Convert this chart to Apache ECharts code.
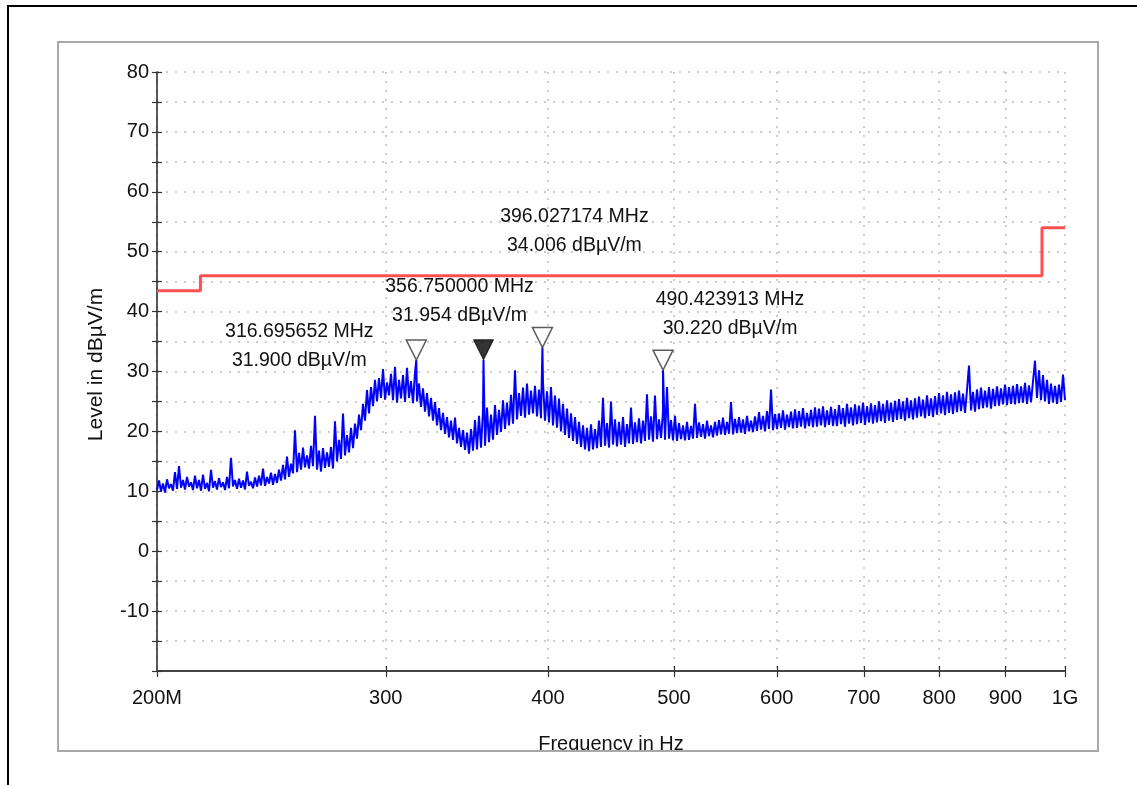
<!DOCTYPE html>
<html><head><meta charset="utf-8">
<script src="https://cdn.jsdelivr.net/npm/echarts@6/dist/echarts.min.js"></script>
<style>html,body{margin:0;padding:0;background:#fff}#c{width:1137px;height:785px}</style>
</head><body><div id="c"></div>
<script>
// ---- data ----
const sweepStartMHz = 200, sweepStopMHz = 1000;
const traceLevels = [
10.2,11.8,10.0,11.3,9.8,12.0,10.5,11.2,10.1,13.2,
10.4,14.2,10.6,11.9,10.3,12.4,10.8,11.5,10.2,12.6,
10.5,11.9,10.1,12.8,10.4,11.4,10.0,13.6,10.6,11.7,
10.3,12.2,10.7,11.5,10.2,12.4,10.5,15.6,10.8,11.9,
10.4,12.1,10.6,11.8,10.3,13.3,10.9,11.6,10.5,12.3,
10.8,12.6,11.0,13.8,10.9,12.4,11.3,13.1,11.1,12.9,
11.4,13.6,11.8,14.4,12.0,15.8,12.4,14.6,13.0,20.2,
13.2,16.4,13.6,17.3,14.0,16.0,13.8,17.6,14.2,22.6,
13.6,16.8,13.3,17.2,13.9,16.5,14.1,17.4,13.8,21.7,
15.0,18.6,15.4,23.0,16.0,19.4,16.5,20.6,17.2,21.3,
18.8,22.8,20.2,24.6,21.8,26.9,23.0,27.4,24.2,28.6,
25.0,28.9,25.6,30.4,25.3,28.2,26.0,29.6,25.2,30.8,
24.8,28.6,25.5,29.4,24.9,30.6,25.6,28.4,24.7,29.8,
25.0,28.0,24.1,27.2,23.3,26.4,22.5,25.6,21.8,24.9,
21.0,23.9,20.2,23.1,19.6,22.4,19.0,21.8,18.6,22.3,
18.0,20.6,17.4,20.2,16.9,19.8,16.3,20.4,16.8,21.9,
17.0,22.6,17.3,23.5,17.6,24.0,18.2,22.8,18.6,24.4,
19.4,23.6,19.9,25.2,20.4,24.8,21.0,26.1,21.3,30.2,
22.0,26.4,22.6,27.3,22.3,28.0,22.8,26.8,23.0,27.6,
22.5,27.0,22.2,28.2,21.8,26.7,21.5,27.4,21.0,26.0,
20.6,25.5,20.0,24.6,19.4,23.8,18.9,23.0,18.4,22.4,
17.9,21.6,17.4,21.0,17.0,20.6,16.7,21.2,17.0,20.4,
17.2,21.8,17.4,25.6,17.6,21.4,17.3,25.0,17.8,22.0,
17.5,21.6,17.8,22.4,17.4,21.2,18.0,24.0,17.9,21.5,
18.2,22.2,18.0,21.8,18.4,26.2,18.6,22.5,18.3,26.0,
18.7,22.0,18.9,23.3,18.6,27.4,18.8,21.9,18.5,22.6,
18.4,21.4,18.7,21.0,18.5,21.6,18.6,20.9,18.8,24.6,
18.9,21.5,19.1,21.2,18.8,21.8,19.2,21.0,19.0,21.6,
19.3,21.9,19.5,22.3,19.4,21.6,19.6,24.9,19.5,22.1,
19.7,22.4,19.8,22.0,19.6,22.6,20.0,21.8,19.9,22.5,
20.1,23.2,20.3,22.6,20.0,23.4,20.4,27.0,20.2,22.9,
20.4,23.0,20.6,23.5,20.3,22.8,20.7,23.3,20.5,23.7,
20.6,23.4,20.8,23.9,20.5,23.1,20.9,23.6,20.7,24.0,
20.8,23.8,21.0,24.2,20.7,23.5,21.1,24.1,20.9,23.7,
20.9,24.4,21.2,23.9,20.8,24.6,21.3,24.0,21.0,24.5,
21.2,24.3,21.4,24.8,21.1,24.2,21.5,24.7,21.3,24.4,
21.5,25.0,21.7,24.6,21.4,25.2,21.8,24.8,21.6,25.1,
21.9,25.4,22.1,25.0,21.8,25.6,22.2,25.2,22.0,25.5,
22.3,25.8,22.5,25.3,22.2,26.0,22.6,25.5,22.4,25.9,
22.8,26.4,23.0,26.0,22.7,26.6,23.1,26.2,22.9,26.5,
23.2,26.8,23.4,26.3,23.1,26.9,31.0,23.5,26.6,23.3,
27.0,23.7,27.3,23.9,26.8,24.0,27.4,23.8,27.1,24.2,
27.5,24.3,27.2,24.5,27.8,24.4,27.4,24.6,27.6,24.5,
27.9,24.7,27.5,24.8,28.1,24.6,27.7,24.9,28.3,31.8,
25.6,30.2,25.2,29.4,25.0,28.6,24.6,28.0,24.8,27.6,
24.6,27.8,24.9,29.5,25.2
];
const markerFreqs  = [316.695652, 356.750000, 396.027174, 490.423913];
const markerLevels = [31.900, 31.954, 34.006, 30.220];
const markerFilled = [false, true, false, false];
const limitFreqs  = [200, 216, 216, 960, 960, 1000];
const limitLevels = [43.5, 43.5, 46, 46, 54, 54];
const xTickValues = [200, 300, 400, 500, 600, 700, 800, 900, 1000];
const xTickLabels = ['200M', '300', '400', '500', '600', '700', '800', '900', '1G'];
const yLabelValues = [80, 70, 60, 50, 40, 30, 20, 10, 0, -10];

// ---- layout / style (not data) ----
const markerLabelOffsets = [[-117, -14], [-24, -59], [32, -116], [67, -56]];
const FONT = '"Liberation Sans", Arial, sans-serif';

// build trace (sweep grid, log spaced) + marker peaks
const n = traceLevels.length;
const trace = traceLevels.map((v, i) => [sweepStartMHz * Math.pow(sweepStopMHz / sweepStartMHz, i / (n - 1)), v]);
markerFreqs.forEach((f, i) => trace.push([f, markerLevels[i]]));
trace.sort((a, b) => a[0] - b[0]);

const limit = limitFreqs.map((f, i) => [f, limitLevels[i]]);

const dotted = { color: '#bdbdbd', width: 1.5, type: [2, 7] };

const frameGraphics = [
  { id: 'mask', type: 'rect', z: 100, shape: { x: 0, y: 752, width: 1137, height: 40 }, style: { fill: '#fff' } },
  { id: 'panel', type: 'rect', z: 101, shape: { x: 58, y: 42, width: 1040, height: 709 }, style: { fill: 'none', stroke: '#a8a8a8', lineWidth: 2 } },
  { id: 'frame', type: 'rect', z: 102, shape: { x: 8, y: 6, width: 1140, height: 800 }, style: { fill: 'none', stroke: '#000', lineWidth: 2 } }
];

const chart = echarts.init(document.getElementById('c'), null, { renderer: 'canvas' });
chart.setOption({
  animation: false,
  backgroundColor: '#fff',
  textStyle: { fontFamily: FONT },
  grid: { left: 157, top: 72, right: 72, bottom: 114, containLabel: false },
  xAxis: [{
    type: 'log', logBase: 10, min: sweepStartMHz, max: sweepStopMHz,
    position: 'bottom',
    name: 'Frequency in Hz', nameLocation: 'middle', nameGap: 63,
    nameTextStyle: { fontSize: 20, color: '#111', fontFamily: FONT },
    axisLine: { show: true, onZero: false, lineStyle: { color: '#444', width: 2 } },
    axisTick: { show: true, inside: false, length: 6, customValues: xTickValues, lineStyle: { color: '#333', width: 1.2 } },
    axisLabel: { show: true, customValues: xTickValues, margin: 17, fontSize: 20, color: '#111', fontFamily: FONT,
      formatter: v => { const k = xTickValues.findIndex(t => Math.abs(t - v) < 1e-6 * t); return k >= 0 ? xTickLabels[k] : ''; } },
    splitLine: { show: true, lineStyle: dotted },
    minorTick: { show: false }
  }, {
    type: 'log', logBase: 10, min: sweepStartMHz, max: sweepStopMHz,
    position: 'bottom', offset: 0,
    axisLine: { show: false, onZero: false },
    axisTick: { show: true, inside: true, length: 5, customValues: xTickValues.slice(1), lineStyle: { color: '#333', width: 1.2 } },
    axisLabel: { show: false },
    splitLine: { show: false }
  }],
  yAxis: [{
    type: 'value', min: -20, max: 80, interval: 5, position: 'left',
    name: 'Level in dBµV/m', nameLocation: 'middle', nameGap: 50,
    nameTextStyle: { fontSize: 21, color: '#111', fontFamily: FONT, padding: [0, 0, 0, 14] },
    axisLine: { show: true, onZero: false, lineStyle: { color: '#222', width: 1.5 } },
    axisTick: { show: true, inside: false, length: 5, lineStyle: { color: '#333', width: 1.2 } },
    axisLabel: { show: true, margin: 8, fontSize: 20, color: '#111', fontFamily: FONT,
      formatter: v => yLabelValues.indexOf(v) >= 0 ? String(v) : '' },
    splitLine: { show: true, lineStyle: dotted }
  }, {
    type: 'value', min: -20, max: 80, interval: 5, position: 'left', offset: 0,
    axisLine: { show: false, onZero: false },
    axisTick: { show: true, inside: true, length: 5, lineStyle: { color: '#333', width: 1.2 } },
    axisLabel: { show: false },
    splitLine: { show: false }
  }],
  series: [{
    name: 'Limit', type: 'line', data: limit, showSymbol: false, symbol: 'none',
    lineStyle: { color: '#ff5050', width: 3 }, z: 2
  }, {
    name: 'Level', type: 'line', data: trace, showSymbol: false, symbol: 'none', sampling: null,
    lineStyle: { color: '#0000ff', width: 2 }, z: 3
  }, {
    name: 'Markers', type: 'scatter',
    symbol: 'path://M0,0 L20,0 L10,20 Z', symbolSize: [20, 20], symbolOffset: [0, -10],
    data: markerFreqs.map((f, i) => ({
      value: [f, markerLevels[i]],
      itemStyle: markerFilled[i] ? { color: '#000', borderColor: '#000', borderWidth: 1 }
                                 : { color: '#fff', borderColor: '#333', borderWidth: 1.5 }
    })),
    z: 5
  }],
  graphic: frameGraphics
});

// marker readout texts, placed through the chart's own scales
const texts = markerFreqs.map((f, i) => {
  const p = chart.convertToPixel({ xAxisIndex: 0, yAxisIndex: 0 }, [f, markerLevels[i]]);
  return {
    id: 'mtext' + i, type: 'text', z: 50,
    x: p[0] + markerLabelOffsets[i][0], y: p[1] + markerLabelOffsets[i][1],
    style: {
      text: f.toFixed(6) + ' MHz\n' + markerLevels[i].toFixed(3) + ' dBµV/m',
      fontSize: 19.5, fontFamily: FONT, lineHeight: 29, fill: '#111',
      align: 'center', verticalAlign: 'middle'
    }
  };
});
chart.setOption({ graphic: frameGraphics.concat(texts) });
</script>
</body></html>
